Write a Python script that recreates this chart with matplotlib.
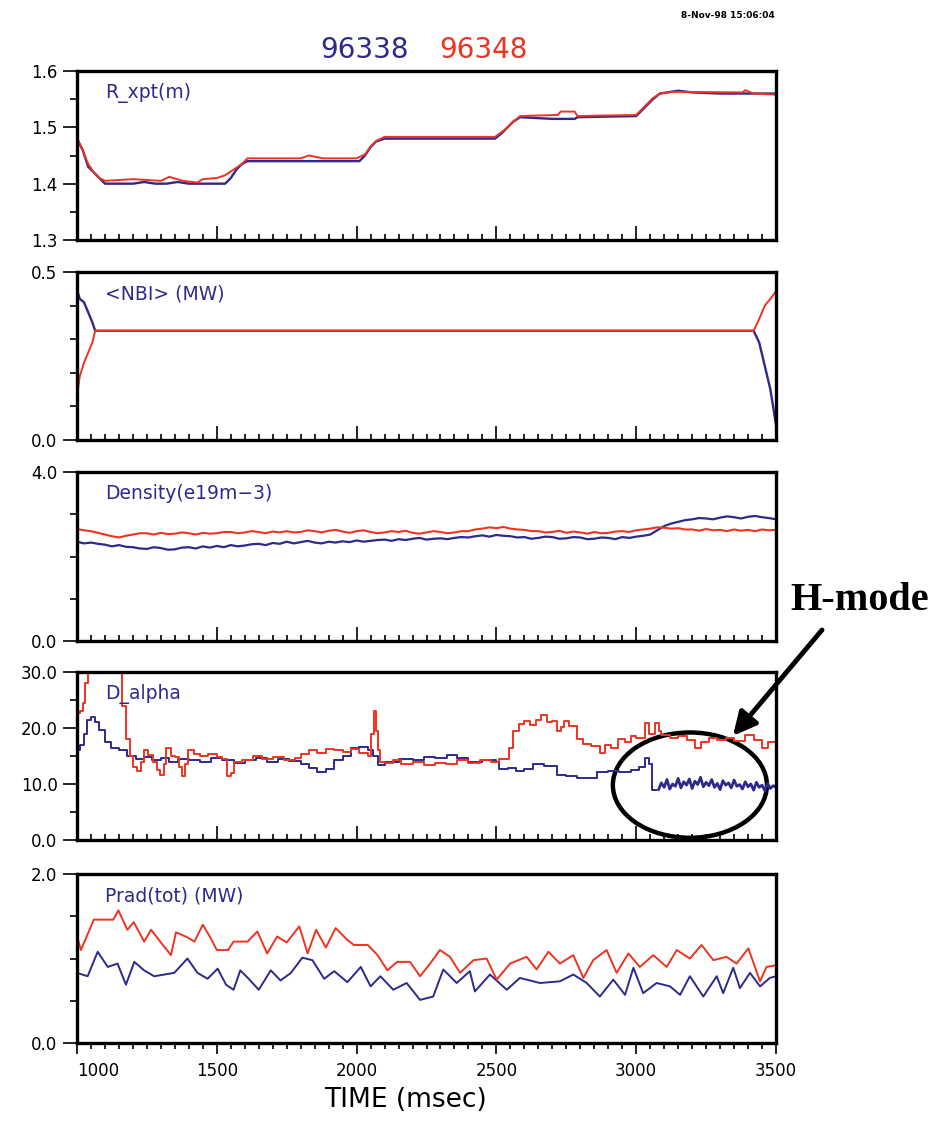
import numpy as np
import matplotlib.pyplot as plt
from matplotlib.patches import Ellipse
from matplotlib.ticker import FixedLocator, MultipleLocator

# shot numbers and colours
shots = ['96338', '96348']
blue = '#2d2a8c'
red = '#ee3322'

# R_xpt (m)
rx_t_b = [1000, 1020, 1040, 1060, 1080, 1100, 1200, 1240, 1280, 1320, 1360, 1400, 1530, 1550, 1570,
          1590, 1610, 2010, 2030, 2050, 2070, 2100, 2495, 2520, 2540, 2560, 2585, 2700, 2780, 2790,
          3000, 3020, 3040, 3060, 3085, 3150, 3200, 3300, 3500]
rx_b = [1.48, 1.46, 1.43, 1.42, 1.41, 1.40, 1.40, 1.403, 1.40, 1.40, 1.403, 1.40, 1.40, 1.41, 1.425,
        1.435, 1.44, 1.44, 1.45, 1.465, 1.475, 1.48, 1.48, 1.49, 1.50, 1.51, 1.518, 1.515, 1.515, 1.518,
        1.52, 1.53, 1.54, 1.55, 1.56, 1.565, 1.562, 1.56, 1.56]
rx_t_r = [1000, 1020, 1040, 1060, 1080, 1100, 1200, 1300, 1330, 1380, 1430, 1450, 1500, 1530, 1560,
          1590, 1610, 1800, 1830, 1880, 2000, 2030, 2050, 2070, 2100, 2495, 2520, 2540, 2560, 2585,
          2720, 2730, 2780, 2790, 3000, 3020, 3040, 3060, 3085, 3130, 3380, 3390, 3420, 3500]
rx_r = [1.48, 1.46, 1.435, 1.42, 1.41, 1.405, 1.408, 1.405, 1.412, 1.405, 1.402, 1.408, 1.41, 1.415, 1.425,
        1.435, 1.445, 1.445, 1.45, 1.445, 1.445, 1.452, 1.466, 1.476, 1.483, 1.483, 1.492, 1.50, 1.51, 1.52,
        1.522, 1.528, 1.528, 1.52, 1.522, 1.532, 1.542, 1.552, 1.56, 1.563, 1.562, 1.566, 1.56, 1.558]

# <NBI> (MW)
nbi_t = [1000, 1010, 1025, 1040, 1055, 1065, 3420, 3440, 3460, 3480, 3500]
nbi_b = [0.446, 0.42, 0.41, 0.38, 0.35, 0.325, 0.325, 0.29, 0.22, 0.15, 0.045]
nbi_r = [0.13, 0.19, 0.23, 0.26, 0.29, 0.325, 0.325, 0.36, 0.40, 0.42, 0.443]

# Density (e19 m-3), every 25 ms
den_t = np.arange(1000, 3501, 25)
den_b = [2.35, 2.31, 2.33, 2.30, 2.28, 2.24, 2.27, 2.23, 2.22, 2.19,
         2.18, 2.22, 2.20, 2.16, 2.17, 2.21, 2.22, 2.19, 2.24, 2.21,
         2.25, 2.22, 2.27, 2.24, 2.26, 2.29, 2.30, 2.27, 2.32, 2.30,
         2.35, 2.31, 2.34, 2.37, 2.33, 2.31, 2.35, 2.33, 2.36, 2.34,
         2.38, 2.35, 2.37, 2.39, 2.40, 2.37, 2.41, 2.39, 2.42, 2.44,
         2.40, 2.42, 2.43, 2.41, 2.44, 2.46, 2.45, 2.48, 2.50, 2.47,
         2.51, 2.49, 2.48, 2.45, 2.46, 2.42, 2.44, 2.47, 2.46, 2.42,
         2.43, 2.46, 2.45, 2.41, 2.42, 2.45, 2.44, 2.41, 2.46, 2.44,
         2.47, 2.49, 2.52, 2.62, 2.72, 2.78, 2.82, 2.86, 2.88, 2.91,
         2.90, 2.88, 2.92, 2.95, 2.93, 2.90, 2.94, 2.96, 2.93, 2.91,
         2.88]
den_r = [2.65, 2.62, 2.60, 2.56, 2.52, 2.48, 2.45, 2.49, 2.52, 2.55,
         2.55, 2.52, 2.56, 2.53, 2.54, 2.57, 2.55, 2.52, 2.56, 2.54,
         2.55, 2.58, 2.58, 2.55, 2.57, 2.60, 2.58, 2.55, 2.59, 2.57,
         2.60, 2.57, 2.58, 2.62, 2.60, 2.57, 2.61, 2.63, 2.59, 2.56,
         2.60, 2.62, 2.58, 2.55, 2.57, 2.60, 2.58, 2.61, 2.56, 2.54,
         2.57, 2.60, 2.58, 2.55, 2.57, 2.60, 2.60, 2.64, 2.66, 2.69,
         2.67, 2.70, 2.66, 2.64, 2.63, 2.60, 2.60, 2.57, 2.58, 2.61,
         2.56, 2.59, 2.57, 2.54, 2.58, 2.55, 2.56, 2.59, 2.60, 2.58,
         2.62, 2.64, 2.66, 2.69, 2.68, 2.66, 2.67, 2.64, 2.64, 2.61,
         2.65, 2.62, 2.63, 2.60, 2.64, 2.61, 2.63, 2.60, 2.64, 2.62,
         2.63]

# D_alpha
da_t_b = [1000, 1010, 1025, 1035, 1050, 1065, 1080, 1100, 1120, 1150, 1180, 1210, 1240, 1270, 1300,
          1330, 1360, 1400, 1440, 1480, 1520, 1560, 1600, 1640, 1680, 1720, 1760, 1800, 1830, 1860,
          1890, 1920, 1950, 1980, 2010, 2040, 2060, 2075, 2100, 2150, 2200, 2240, 2280, 2325, 2360,
          2400, 2450, 2500, 2510, 2540, 2570, 2600, 2630, 2670, 2700, 2715, 2750, 2790, 2830, 2860,
          2900, 2940, 2980, 3010, 3030, 3045, 3055, 3070]
da_b = [16.0, 17.0, 19.0, 21.5, 22.0, 21.0, 19.6, 17.5, 16.5, 16.0, 15.0, 14.5, 14.8, 14.2, 14.6,
        14.0, 14.5, 14.3, 14.0, 14.6, 14.2, 13.8, 14.3, 14.6, 14.0, 14.4, 14.1, 13.5, 12.8, 12.2,
        12.6, 14.2, 15.0, 16.4, 16.6, 16.0, 15.0, 13.4, 14.0, 14.5, 14.3, 14.9, 14.6, 15.2, 14.6,
        14.0, 14.2, 14.0, 12.6, 12.8, 12.3, 12.6, 13.5, 13.2, 13.3, 11.6, 11.4, 11.0, 11.1, 12.1,
        12.4, 12.2, 12.5, 13.0, 14.6, 13.5, 9.0, 8.9]
# H-mode part of 96338, every 10 ms from 3080
hm_t = np.arange(3080, 3501, 10)
hm_b = [9.0, 10.2, 9.4, 10.8, 9.1, 10.0, 9.6, 11.0, 9.3, 10.4, 9.8, 10.9, 9.2, 10.5, 9.9,
        11.2, 9.5, 10.3, 9.7, 10.8, 9.4, 10.1, 9.0, 10.6, 9.8, 10.2, 9.3, 10.7, 9.6, 9.9,
        9.1, 10.4, 9.5, 10.0, 8.9, 10.3, 9.4, 9.8, 8.8, 10.1, 9.2, 9.7, 9.4]
da_t_r = [1000, 1010, 1020, 1030, 1038, 1145, 1150, 1160, 1175, 1190, 1200, 1215, 1230, 1240, 1255,
          1273, 1285, 1297, 1310, 1320, 1335, 1350, 1365, 1374, 1385, 1398, 1420, 1440, 1470, 1500,
          1520, 1535, 1550, 1560, 1590, 1630, 1660, 1700, 1740, 1780, 1800, 1830, 1860, 1890, 1920,
          1950, 1980, 2010, 2040, 2050, 2062, 2068, 2075, 2085, 2100, 2130, 2160, 2200, 2240, 2280,
          2320, 2360, 2400, 2440, 2480, 2510, 2530, 2545, 2560, 2580, 2600, 2620, 2640, 2660, 2680,
          2700, 2715, 2730, 2740, 2760, 2790, 2810, 2840, 2870, 2890, 2910, 2935, 2960, 2980, 3000,
          3030, 3045, 3067, 3080, 3090, 3120, 3150, 3180, 3210, 3230, 3260, 3290, 3320, 3350, 3390,
          3420, 3450, 3470, 3500]
da_r = [22.6, 23.0, 24.5, 28.0, 32.0, 32.0, 30.0, 24.0, 18.0, 15.0, 13.0, 12.3, 14.0, 16.0, 15.2,
        14.0, 12.5, 11.6, 13.5, 16.5, 15.0, 14.8, 13.0, 11.5, 13.5, 16.0, 15.3, 15.0, 15.4, 14.8,
        14.5, 11.5, 12.0, 14.0, 14.3, 15.0, 14.5, 14.8, 14.3, 14.6, 15.3, 16.0, 15.6, 16.2, 16.0,
        15.8, 16.2, 15.6, 15.0, 19.0, 23.0, 19.5, 16.0, 14.0, 13.8, 14.2, 13.6, 14.0, 13.4, 13.8,
        13.5, 14.2, 13.8, 14.3, 14.0, 14.4, 14.5, 16.5, 19.5, 20.8, 21.2, 20.6, 21.5, 22.3, 21.0,
        21.3, 19.4, 20.2, 21.2, 20.4, 18.0, 17.2, 16.8, 15.6, 17.0, 16.5, 18.0, 17.5, 18.6, 18.3,
        20.9, 19.0, 20.9, 19.5, 18.8, 18.3, 18.5, 17.8, 16.5, 17.5, 18.3, 17.9, 18.2, 17.6, 18.8,
        17.8, 16.5, 17.5, 18.0]

# Prad(tot) (MW)
pr_t_b = [1000, 1038, 1074, 1110, 1145, 1175, 1205, 1240, 1276, 1312, 1348, 1395, 1431, 1467, 1503,
          1533, 1560, 1584, 1614, 1650, 1693, 1728, 1765, 1806, 1842, 1884, 1920, 1967, 2015, 2050,
          2085, 2131, 2179, 2227, 2274, 2310, 2358, 2405, 2423, 2477, 2537, 2584, 2656, 2727, 2775,
          2823, 2870, 2918, 2960, 2990, 3025, 3073, 3121, 3157, 3192, 3240, 3288, 3311, 3347, 3371,
          3407, 3443, 3478, 3500]
pr_b = [0.83, 0.79, 1.08, 0.90, 0.94, 0.69, 0.96, 0.86, 0.79, 0.81, 0.83, 1.00, 0.83, 0.76, 0.88,
        0.69, 0.63, 0.86, 0.76, 0.63, 0.86, 0.74, 0.83, 1.01, 0.98, 0.76, 0.85, 0.72, 0.90, 0.67,
        0.79, 0.63, 0.71, 0.51, 0.55, 0.87, 0.71, 0.85, 0.61, 0.81, 0.63, 0.77, 0.71, 0.73, 0.81,
        0.71, 0.55, 0.75, 0.57, 0.89, 0.59, 0.71, 0.67, 0.57, 0.79, 0.55, 0.79, 0.59, 0.89, 0.65,
        0.83, 0.67, 0.77, 0.79]
pr_t_r = [1000, 1014, 1050, 1060, 1130, 1148, 1180, 1203, 1240, 1265, 1300, 1336, 1354, 1395, 1420,
          1450, 1480, 1500, 1540, 1560, 1610, 1645, 1680, 1716, 1750, 1795, 1825, 1855, 1890, 1925,
          1967, 1990, 2040, 2075, 2110, 2145, 2191, 2227, 2263, 2298, 2334, 2370, 2418, 2465, 2501,
          2549, 2608, 2644, 2686, 2727, 2775, 2811, 2846, 2894, 2930, 2972, 3013, 3061, 3109, 3145,
          3192, 3234, 3276, 3323, 3359, 3401, 3443, 3466, 3500]
pr_r = [1.26, 1.10, 1.38, 1.46, 1.46, 1.57, 1.34, 1.43, 1.20, 1.34, 1.19, 1.04, 1.31, 1.25, 1.20,
        1.40, 1.23, 1.10, 1.10, 1.20, 1.20, 1.32, 1.06, 1.26, 1.19, 1.38, 1.06, 1.34, 1.13, 1.36,
        1.22, 1.16, 1.16, 1.04, 0.86, 0.96, 0.96, 0.79, 0.94, 1.10, 1.02, 0.83, 0.98, 1.00, 0.75,
        0.94, 1.02, 0.87, 1.08, 0.94, 1.04, 0.77, 0.98, 1.10, 0.83, 1.06, 0.90, 1.04, 0.90, 1.10,
        1.00, 1.16, 0.98, 1.02, 0.94, 1.12, 0.73, 0.90, 0.92]

labels = ['R_xpt(m)', '<NBI> (MW)', 'Density(e19m\u22123)', 'D_alpha', 'Prad(tot) (MW)']
ylims = [(1.3, 1.6), (0.0, 0.5), (0.0, 4.0), (0.0, 30.0), (0.0, 2.0)]
yticks = [[1.3, 1.4, 1.5, 1.6], [0.0, 0.5], [0.0, 4.0], [0.0, 10.0, 20.0, 30.0], [0.0, 2.0]]
yminor = [[1.35, 1.45, 1.55], [0.1, 0.2, 0.3, 0.4], [1, 2, 3], [5, 15, 25], [0.5, 1.0, 1.5]]
xticks = [1000, 1500, 2000, 2500, 3000, 3500]

fig = plt.figure(figsize=(9.44, 11.21), dpi=100)
W, H = 944.0, 1121.0
tops = [71, 272, 472, 672, 874]
bots = [240, 440, 641, 840, 1043]
axs = []
for top, bot in zip(tops, bots):
    axs.append(fig.add_axes([77 / W, 1 - bot / H, 699 / W, (bot - top) / H]))

# draw the traces
axs[0].plot(rx_t_b, rx_b, color=blue, lw=1.7)
axs[0].plot(rx_t_r, rx_r, color=red, lw=1.4)
axs[1].plot(nbi_t, nbi_b, color=blue, lw=1.7)
axs[1].plot(nbi_t, nbi_r, color=red, lw=1.4)
axs[2].plot(den_t, den_b, color=blue, lw=1.6)
axs[2].plot(den_t, den_r, color=red, lw=1.5)
axs[3].plot(da_t_b, da_b, color=blue, lw=1.4, drawstyle='steps-post')
axs[3].plot(hm_t, hm_b, color=blue, lw=2.0)
axs[3].plot(da_t_r, da_r, color=red, lw=1.4, drawstyle='steps-post')
axs[4].plot(pr_t_b, pr_b, color=blue, lw=1.4)
axs[4].plot(pr_t_r, pr_r, color=red, lw=1.4)

for i, ax in enumerate(axs):
    ax.set_xlim(1000, 3500)
    ax.set_ylim(*ylims[i])
    for s in ax.spines.values():
        s.set_linewidth(2.4)
    ax.yaxis.set_major_locator(FixedLocator(yticks[i]))
    ax.yaxis.set_minor_locator(FixedLocator(yminor[i]))
    ax.set_yticklabels(['%.1f' % v for v in yticks[i]])
    ax.xaxis.set_major_locator(FixedLocator(xticks))
    ax.xaxis.set_minor_locator(MultipleLocator(50))
    ax.tick_params(axis='y', which='major', direction='out', length=10, width=1.2, pad=4, labelsize=12)
    ax.tick_params(axis='y', which='minor', direction='out', length=5, width=1.2)
    bottom = (i == len(axs) - 1)
    d = 'out' if bottom else 'in'
    ax.tick_params(axis='x', which='major', direction=d, length=10 if not bottom else 8, width=1.2,
                   labelbottom=bottom, labelsize=12, pad=6)
    ax.tick_params(axis='x', which='minor', direction=d, length=4.5, width=1.2)
    ax.text(0.04, 0.87, labels[i], transform=ax.transAxes, color=blue, fontsize=13.5,
            ha='left', va='center')

axs[-1].set_xticklabels([str(v) for v in xticks])
axs[-1].get_xticklabels()[0].set_horizontalalignment('left')
fig.text(405 / W, 1 - 1100 / H, 'TIME (msec)', fontsize=19, ha='center', va='center')

# header
fig.text(364 / W, 1 - 50 / H, shots[0], color=blue, fontsize=20, ha='center', va='center')
fig.text(483 / W, 1 - 50 / H, shots[1], color=red, fontsize=20, ha='center', va='center')
fig.text(775 / W, 1 - 16 / H, '8-Nov-98 15:06:04', fontsize=6.5, fontweight='bold',
         ha='right', va='center')

# H-mode annotation on D_alpha panel
ax = axs[3]
ax.add_patch(Ellipse((3192, 9.8), 551, 18.8, fill=False, lw=3.2, color='black', clip_on=False))
ax.annotate('', xy=(3346, 18.6), xycoords='data',
            xytext=(822 / W, 1 - 630 / H), textcoords='figure fraction',
            arrowprops=dict(arrowstyle='-|>', lw=3.5, color='black', mutation_scale=35,
                            shrinkA=0, shrinkB=0), annotation_clip=False)
fig.text(860 / W, 1 - 600 / H, 'H-mode', fontsize=29, fontweight='bold',
         family='Liberation Serif', ha='center', va='center')

fig.savefig('out.png', dpi=100)
